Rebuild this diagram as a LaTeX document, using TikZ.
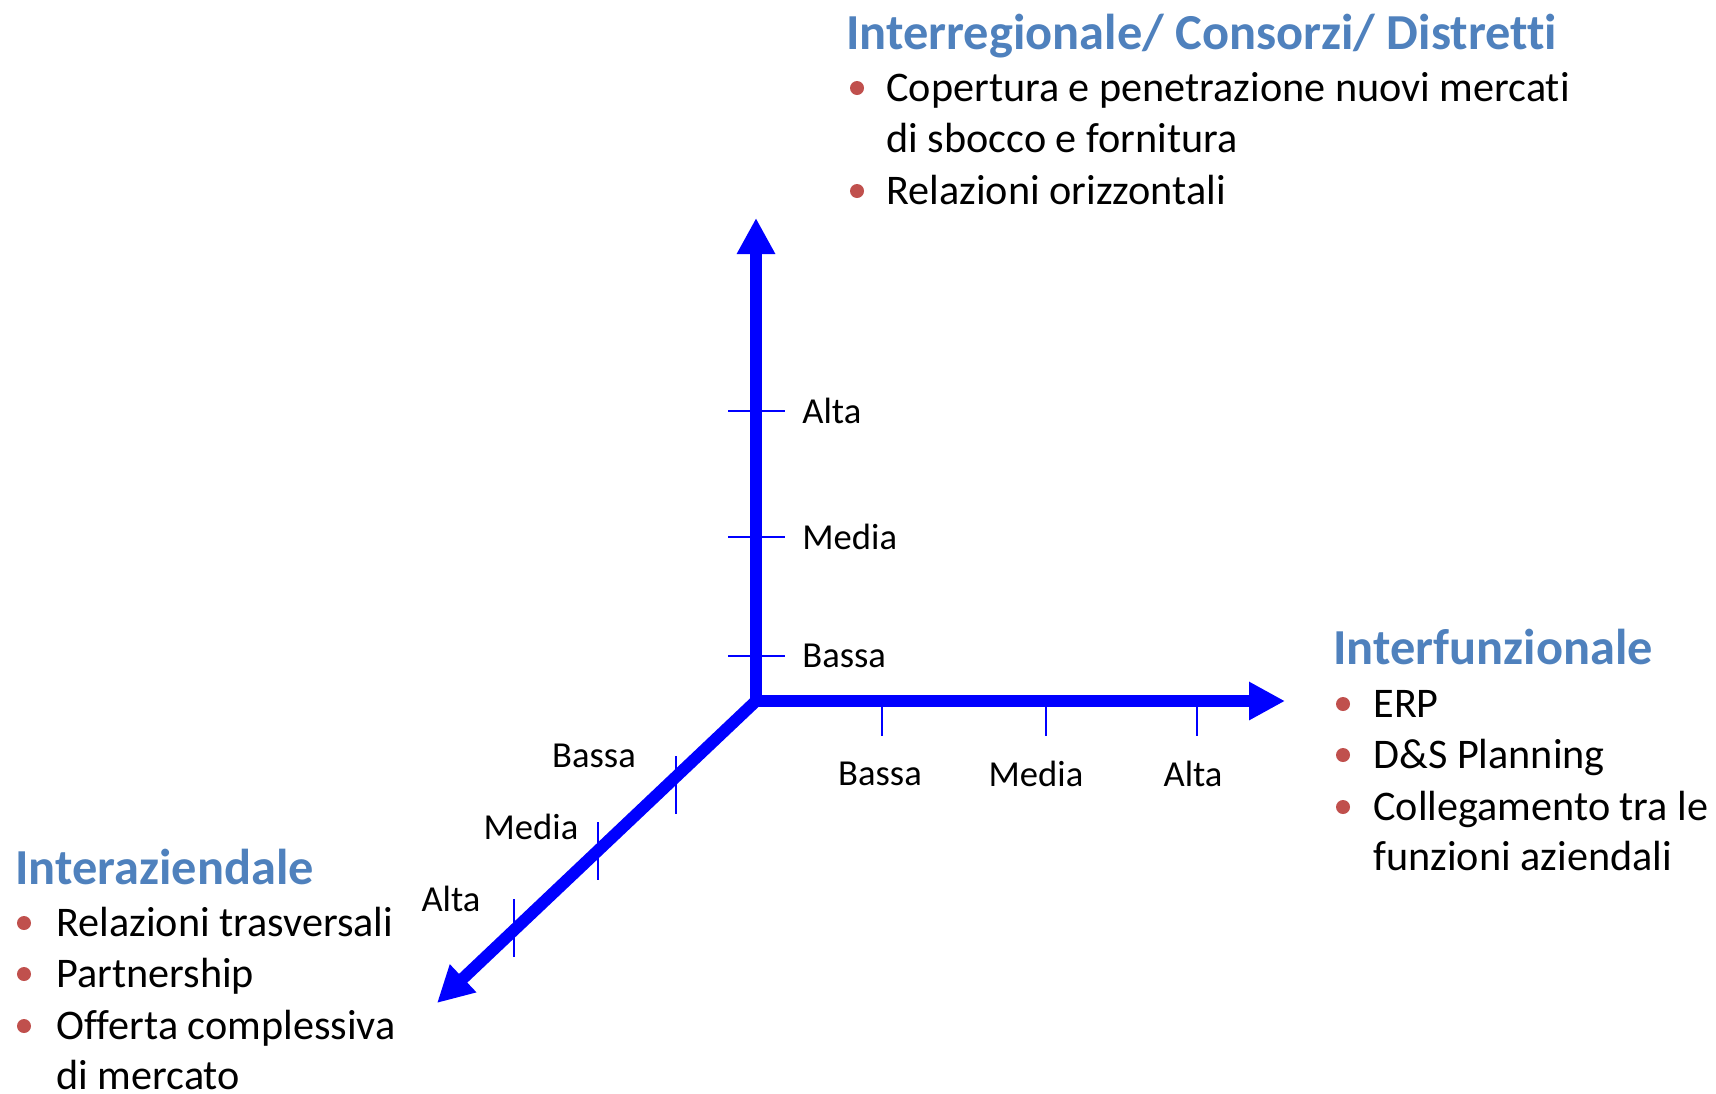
\documentclass[tikz,border=0pt]{standalone}
\usepackage{fontspec}
\setmainfont[RawFeature={-liga;-clig;-dlig}]{Carlito}
\usetikzlibrary{arrows.meta}

\definecolor{headblue}{HTML}{4F81BD}
\definecolor{dotred}{HTML}{C0504D}
\definecolor{axisblue}{HTML}{0000FF}

\begin{document}
\begin{tikzpicture}[x=0.5pt,y=-0.5pt,
    axis/.style={line width=6pt, axisblue, line cap=rect, -{Triangle[length=18pt,width=18pt]}},
    tick/.style={line width=1pt, axisblue},
    lab/.style={font=\fontsize{18.3}{22}\selectfont, inner sep=0pt},
    head/.style={font=\fontsize{25.2}{30}\selectfont\bfseries, text=headblue, anchor=base west, inner sep=0pt},
    item/.style={font=\fontsize{21.1}{25.7}\selectfont, anchor=base west, inner sep=0pt},
    dot/.style={circle, fill=dotred, inner sep=0pt, minimum size=7pt}]
    \useasboundingbox (0,0) rectangle (1716,1093);

    % Axes
    \coordinate (origin) at (756,701);
    \coordinate (ytip) at (756,218);
    \coordinate (xtip) at (1285,701);
    \coordinate (ztip) at (437,1003);
    \draw[axis] (origin) -- (ytip);
    \draw[axis] (origin) -- (xtip);
    \draw[axis] (origin) -- (ztip);

    % Ticks and labels
    \foreach \y/\txt [count=\i] in {656/Bassa, 537/Media, 411/Alta} {
        \draw[tick] (728,\y) -- (785,\y);
        \node[lab, anchor=west] (ylab\i) at (802,\y) {\txt};
    }
    \foreach \x/\lx/\txt [count=\i] in {882/880/Bassa, 1046/1036/Media, 1197/1193/Alta} {
        \draw[tick] (\x,701) -- (\x,736);
        \node[lab] (xlab\i) at (\lx,774) {\txt};
    }
    \foreach \x/\y/\lx/\ly/\txt [count=\i] in {676/785/594/756/Bassa, 598/851/531/827/Media, 514/928/451/899/Alta} {
        \draw[tick] (\x,\y-29) -- (\x,\y+29);
        \node[lab] (zlab\i) at (\lx,\ly) {\txt};
    }

    % Interregionale
    \node[head] (toph) at (846,49) {Interregionale/ Consorzi/ Distretti};
    \foreach \y/\txt [count=\i] in {101/Copertura e penetrazione nuovi mercati, 152.5/di sbocco e fornitura, 204/Relazioni orizzontali}
        \node[item] (top\i) at (886,\y) {\txt};
    \node[dot] (topdot1) at (857,88) {};
    \node[dot] (topdot2) at (857,191) {};

    % Interfunzionale
    \node[head] (righth) at (1333,664) {Interfunzionale};
    \foreach \y/\txt [count=\i] in {717.5/ERP, 768.5/D\&S Planning, 820/Collegamento tra le, 870.5/funzioni aziendali}
        \node[item] (right\i) at (1373,\y) {\txt};
    \foreach \y [count=\i] in {704,755,807}
        \node[dot] (rightdot\i) at (1343,\y) {};

    % Interaziendale
    \node[head] (lefth) at (15,884) {Interaziendale};
    \foreach \y/\txt [count=\i] in {936/Relazioni trasversali, 987.5/Partnership, 1039/Offerta complessiva, 1089/di mercato}
        \node[item] (left\i) at (56,\y) {\txt};
    \foreach \y [count=\i] in {923,974,1026}
        \node[dot] (leftdot\i) at (24,\y) {};
\end{tikzpicture}
\end{document}
